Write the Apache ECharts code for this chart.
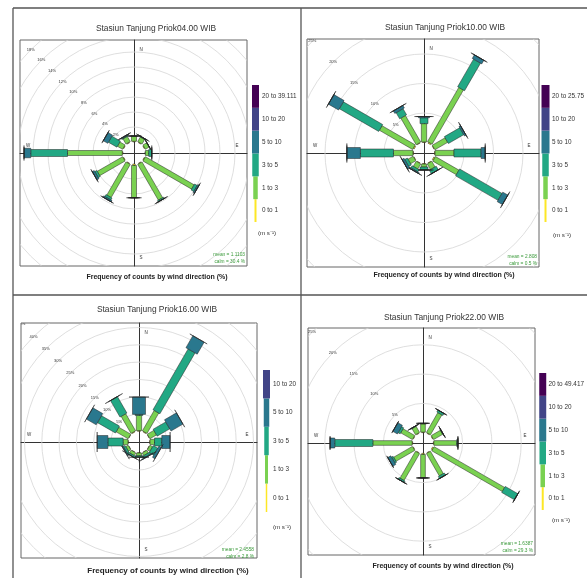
<!DOCTYPE html>
<html><head><meta charset="utf-8">
<script src="https://cdn.jsdelivr.net/npm/echarts@6/dist/echarts.min.js"></script>
<style>html,body{margin:0;padding:0;background:#fff}#c{width:587px;height:578px}</style>
</head><body><div id="c"></div>
<script>
// ---------- DATA ----------
const directions = [0, 30, 60, 90, 120, 150, 180, 210, 240, 270, 300, 330];
const speedColors = ['#FDE725', '#7AD151', '#22A884', '#2A788E', '#414487', '#440154'];

// 04.00 WIB  (frequency %, per speed class, per direction)
const p04Title = 'Stasiun Tanjung Priok04.00 WIB';
const p04Labels = ['0 to 1', '1 to 3', '3 to 5', '5 to 10', '10 to 20', '20 to 39.111'];
const p04_0_1   = [0.1, 0.1, 0.1, 0.05, 0.1, 0.1, 0.2, 0.1, 0.1, 0.1, 0.1, 0.1];
const p04_1_3   = [0.7, 0.7, 0.6, 0.45, 7.5, 5.5, 4.3, 5.1, 3.9, 7.3, 0.8, 0.8];
const p04_3_5   = [0, 0.1, 0, 0.4, 0.4, 0.2, 0, 0.3, 0.3, 4.9, 1.3, 0.1];
const p04_5_10  = [0, 0, 0, 0, 0.2, 0, 0, 0.2, 0.3, 0.9, 0.7, 0.1];
const p04_10_20 = [0, 0, 0, 0, 0, 0, 0, 0, 0, 0, 0, 0];
const p04_20p   = [0, 0, 0, 0, 0, 0, 0, 0, 0, 0, 0, 0];
const p04Rings  = [2, 4, 6, 8, 10, 12, 14, 16, 18];
const p04Stats  = ['mean = 1.1103', 'calm = 30.4 %'];

// 10.00 WIB
const p10Title = 'Stasiun Tanjung Priok10.00 WIB';
const p10Labels = ['0 to 1', '1 to 3', '3 to 5', '5 to 10', '10 to 20', '20 to 25.75'];
const p10_0_1   = [0.1, 0.2, 0.1, 0.1, 0.2, 0.1, 0.1, 0.1, 0.1, 0.1, 0.2, 0.1];
const p10_1_3   = [3.1, 10.6, 2.5, 3.2, 4.6, 1.1, 0.5, 1.0, 1.0, 3.3, 6.5, 5.2];
const p10_3_5   = [1.0, 5.4, 3.0, 4.6, 8.3, 0.7, 0.5, 0.4, 0.5, 5.6, 7.7, 1.2];
const p10_5_10  = [0.2, 0.7, 0.3, 0.7, 1.0, 0, 0, 0.2, 0.4, 2.3, 2.0, 0.5];
const p10_10_20 = [0, 0, 0, 0, 0, 0, 0, 0, 0, 0, 0, 0];
const p10_20p   = [0, 0, 0, 0, 0, 0, 0, 0, 0, 0, 0, 0];
const p10Rings  = [5, 10, 15, 20, 25];
const p10Stats  = ['mean = 2.808', 'calm = 0.5 %'];

// 16.00 WIB
const p16Title = 'Stasiun Tanjung Priok16.00 WIB';
const p16Labels = ['0 to 1', '1 to 3', '3 to 5', '5 to 10', '10 to 20'];
const p16_0_1   = [0.2, 0.2, 0.1, 0.1, 0.1, 0.1, 0.1, 0.1, 0.1, 0.1, 0.1, 0.2];
const p16_1_3   = [4.4, 6.8, 2.2, 1.3, 0.9, 0.9, 0.8, 0.9, 0.8, 1.4, 4.0, 5.7];
const p16_3_5   = [0.3, 20.3, 4.2, 2.1, 1.5, 0.6, 0.4, 0.5, 0.6, 4.4, 6.0, 5.5];
const p16_5_10  = [5.0, 4.0, 4.0, 2.4, 0.8, 0.2, 0, 0, 0.3, 3.1, 3.3, 0];
const p16_10_20 = [0, 0, 0, 0, 0, 0, 0, 0, 0, 0, 0, 0];
const p16Rings  = [5, 10, 15, 20, 25, 30, 35, 40, 45];
const p16Stats  = ['mean = 2.4558', 'calm = 2.8 %'];

// 22.00 WIB
const p22Title = 'Stasiun Tanjung Priok22.00 WIB';
const p22Labels = ['0 to 1', '1 to 3', '3 to 5', '5 to 10', '10 to 20', '20 to 49.417'];
const p22_0_1   = [0.1, 0.1, 0.1, 0.1, 0.2, 0.1, 0.2, 0.1, 0.1, 0.1, 0.1, 0.1];
const p22_1_3   = [1.4, 3.9, 1.8, 3.9, 13.9, 4.4, 4.0, 5.3, 3.7, 6.7, 2.3, 1.2];
const p22_3_5   = [0.1, 0.4, 0.1, 0.2, 2.5, 0.4, 0, 0.3, 0.3, 6.5, 0.4, 0.1];
const p22_5_10  = [0, 0, 0, 0, 0, 0, 0, 0, 0.6, 0.8, 0.9, 0];
const p22_10_20 = [0, 0, 0, 0, 0, 0, 0, 0, 0, 0, 0, 0];
const p22_20p   = [0, 0, 0, 0, 0, 0, 0, 0, 0, 0, 0, 0];
const p22Rings  = [5, 10, 15, 20, 25];
const p22Stats  = ['mean = 1.6387', 'calm = 29.3 %'];

const captionText = 'Frequency of counts by wind direction (%)';
const unitText = '(m s\u207B\u00B9)';

// ---------- LAYOUT (positions / sizes / styles) ----------
const layout04 = {box:[20,40,247,266], c:[134,153], pxPct:7.5, offPx:11, legend:[252,85,7,137],
  barW:[2.5,5,7,9.5,12,15], legW:[2,4.5,6.5,7,7,7], title:[156,29], caption:[157,277], capSize:7, stats:[245,255], unit:[267,233]};
const layout10 = {box:[307,39,539,267], c:[424,153], pxPct:5.9, offPx:10.5, legend:[542,85,8,137],
  barW:[3,5.3,8,11,15,19], legW:[2,4.5,6.5,8,8,8], title:[445,28], caption:[444,275], capSize:7, stats:[537,257], unit:[562,235]};
const layout16 = {box:[21,323,257,558], c:[139,442], pxPct:3.46, offPx:10.7, legend:[263,370,7,142],
  barW:[3,5.3,8,13,20], legW:[1.5,3,4.5,5.5,7], title:[157,310], caption:[168,571], capSize:8, stats:[254,550], unit:[282,527]};
const layout22 = {box:[308,328,535,555], c:[423,443], pxPct:5.86, offPx:10.3, legend:[540,373,7,137],
  barW:[2.5,4.7,7,10,12,14], legW:[2,4.5,6.5,7,7,7], title:[444,318], caption:[443,566], capSize:7, stats:[533,544], unit:[561,520]};

const FONT = '"Liberation Sans", Arial, sans-serif';

const panels = [
  {title:p04Title, labels:p04Labels, cats:[p04_0_1,p04_1_3,p04_3_5,p04_5_10,p04_10_20,p04_20p], rings:p04Rings, stats:p04Stats, L:layout04},
  {title:p10Title, labels:p10Labels, cats:[p10_0_1,p10_1_3,p10_3_5,p10_5_10,p10_10_20,p10_20p], rings:p10Rings, stats:p10Stats, L:layout10},
  {title:p16Title, labels:p16Labels, cats:[p16_0_1,p16_1_3,p16_3_5,p16_5_10,p16_10_20], rings:p16Rings, stats:p16Stats, L:layout16},
  {title:p22Title, labels:p22Labels, cats:[p22_0_1,p22_1_3,p22_3_5,p22_5_10,p22_10_20,p22_20p], rings:p22Rings, stats:p22Stats, L:layout22}
];

const option = {animation:false, backgroundColor:'#fff', grid:[], xAxis:[], yAxis:[], series:[], graphic:{elements:[]}};
const G = option.graphic.elements;

// panel frame lines
[[13,8,13,578],[13,8,587,8],[301,8,301,578],[13,295,587,295]].forEach(s => {
  G.push({type:'line', shape:{x1:s[0],y1:s[1],x2:s[2],y2:s[3]}, style:{stroke:'#555', lineWidth:1.3}, z:0});
});

function txt(x, y, text, size, opts) {
  opts = opts || {};
  G.push({type:'text', x:x, y:y, z: opts.z != null ? opts.z : 5, style:{text:text, fill:opts.fill || '#333', fontSize:size,
    fontFamily:FONT, fontWeight:opts.weight || 'normal', align:opts.align || 'center', verticalAlign:'middle'}});
}

panels.forEach(p => {
  const L = p.L;
  const [bl, bt, br, bb] = L.box;
  const [cx, cy] = L.c;
  const s = L.pxPct;
  const off = L.offPx / s;
  const gi = option.grid.length;
  option.grid.push({left:bl, top:bt, width:br-bl, height:bb-bt, show:true, borderColor:'#666', borderWidth:1, backgroundColor:'transparent'});
  option.xAxis.push({gridIndex:gi, type:'value', min:-(cx-bl)/s, max:(br-cx)/s,
    axisLine:{onZero:true, lineStyle:{color:'#333', width:1}}, axisTick:{show:false}, axisLabel:{show:false}, splitLine:{show:false}});
  option.yAxis.push({gridIndex:gi, type:'value', min:-(bb-cy)/s, max:(cy-bt)/s,
    axisLine:{onZero:true, lineStyle:{color:'#333', width:1}}, axisTick:{show:false}, axisLabel:{show:false}, splitLine:{show:false}});

  // grid rings + ring labels
  option.series.push({type:'custom', xAxisIndex:gi, yAxisIndex:gi, clip:true, z:1, silent:true,
    data:p.rings.map(v => [v, 0]),
    renderItem:function(params, api) {
      const v = api.value(0);
      const R = off + v;
      const c0 = api.coord([0, 0]);
      const rp = api.size([R, 0])[0];
      const q = R * Math.SQRT1_2;
      const t = api.coord([-q, q]);
      return {type:'group', children:[
        {type:'circle', shape:{cx:c0[0], cy:c0[1], r:rp}, style:{fill:'none', stroke:'#d6d6d6', lineWidth:0.8}},
        {type:'text', x:t[0], y:t[1], style:{text:v + '%', fill:'#333', fontSize:4, fontFamily:FONT, align:'center', verticalAlign:'middle'}}
      ]};
    }});

  // paddles
  const barData = [];
  directions.forEach((d, j) => {
    let cum = 0;
    p.cats.forEach((arr, k) => {
      const v = arr[j];
      barData.push([d, cum, cum + v, k]);
      cum += v;
    });
  });
  option.series.push({type:'custom', xAxisIndex:gi, yAxisIndex:gi, clip:true, z:3, silent:true,
    data:barData,
    renderItem:function(params, api) {
      const d = api.value(0), a = api.value(1), b = api.value(2), k = api.value(3);
      const th = d * Math.PI / 180;
      const R1 = off + a, R2 = off + b;
      const p1 = api.coord([R1 * Math.sin(th), R1 * Math.cos(th)]);
      const p2 = api.coord([R2 * Math.sin(th), R2 * Math.cos(th)]);
      const hw = L.barW[k] / 2;
      const nx = Math.cos(th) * hw, ny = Math.sin(th) * hw;
      return {type:'polygon', shape:{points:[[p1[0]+nx, p1[1]+ny], [p2[0]+nx, p2[1]+ny], [p2[0]-nx, p2[1]-ny], [p1[0]-nx, p1[1]-ny]]},
        style:{fill:speedColors[k], stroke:'#222', lineWidth:0.5}};
    }});

  // legend (colour key)
  const [lx, ly, lw, lh] = L.legend;
  const li = option.grid.length;
  option.grid.push({left:lx, top:ly, width:lw, height:lh});
  option.xAxis.push({gridIndex:li, type:'value', min:0, max:1, show:false});
  option.yAxis.push({gridIndex:li, type:'category', data:p.labels, position:'right',
    axisLine:{show:false}, axisTick:{show:false}, splitLine:{show:false},
    axisLabel:{color:'#333', fontSize:6.4, fontFamily:FONT, margin:3}});
  option.series.push({type:'custom', xAxisIndex:li, yAxisIndex:li, silent:true,
    data:p.labels.map((l, k) => [0.5, k]),
    renderItem:function(params, api) {
      const k = api.value(1);
      const c = api.coord([0.5, k]);
      const bh = api.size([0, 1])[1];
      const w = L.legW[k];
      return {type:'rect', shape:{x:c[0]-w/2, y:c[1]-bh/2, width:w, height:bh}, style:{fill:speedColors[k]}};
    }});

  // texts
  txt(L.title[0], L.title[1], p.title, 8.4);
  txt(L.caption[0], L.caption[1], captionText, L.capSize, {weight:'bold', fill:'#222'});
  txt(L.unit[0], L.unit[1], unitText, 6.2);
  txt(L.stats[0], L.stats[1], p.stats[0], 4.8, {align:'right', fill:'#3a9a3a'});
  txt(L.stats[0], L.stats[1] + 7, p.stats[1], 4.8, {align:'right', fill:'#3a9a3a'});
  txt(cx + 7, bt + 10, 'N', 4.5, {z:0});
  txt(cx + 7, bb - 8, 'S', 4.5, {z:0});
  txt(br - 10, cy - 7, 'E', 4.5, {z:0});
  txt(bl + 8, cy - 7, 'W', 4.5, {z:0});
});

const chart = echarts.init(document.getElementById('c'), null, {renderer:'canvas'});
chart.setOption(option);
</script>
</body></html>
